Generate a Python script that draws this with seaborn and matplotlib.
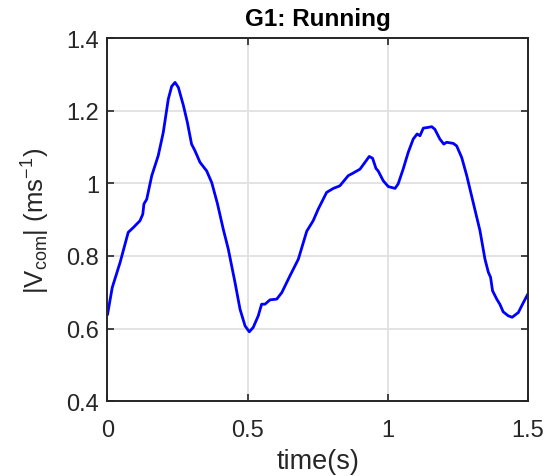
import numpy as np
import pandas as pd
import matplotlib
matplotlib.use("Agg")
import matplotlib.pyplot as plt
import seaborn as sns

# Centre-of-mass speed over one running trial
time_s = [0.000, 0.017, 0.045, 0.074, 0.092, 0.116, 0.126, 0.130, 0.140, 0.158,
          0.181, 0.199, 0.217, 0.229, 0.241, 0.253, 0.271, 0.285, 0.300, 0.312,
          0.330, 0.354, 0.372, 0.392, 0.413, 0.431, 0.455, 0.473, 0.491, 0.506,
          0.520, 0.538, 0.550, 0.562, 0.580, 0.604, 0.622, 0.651, 0.681, 0.711,
          0.734, 0.752, 0.782, 0.806, 0.829, 0.859, 0.876, 0.901, 0.919, 0.934,
          0.946, 0.958, 0.966, 0.984, 1.002, 1.026, 1.037, 1.055, 1.073, 1.091,
          1.105, 1.115, 1.127, 1.144, 1.157, 1.168, 1.186, 1.200, 1.210, 1.234,
          1.246, 1.264, 1.282, 1.305, 1.329, 1.347, 1.359, 1.367, 1.374, 1.389,
          1.400, 1.412, 1.430, 1.444, 1.466, 1.481, 1.500]
v_com = [0.638, 0.713, 0.782, 0.865, 0.878, 0.897, 0.915, 0.943, 0.956, 1.021,
         1.076, 1.140, 1.232, 1.267, 1.278, 1.264, 1.214, 1.168, 1.108, 1.090,
         1.058, 1.034, 1.002, 0.945, 0.874, 0.819, 0.727, 0.653, 0.607, 0.591,
         0.603, 0.635, 0.667, 0.667, 0.679, 0.681, 0.699, 0.745, 0.791, 0.868,
         0.897, 0.929, 0.975, 0.986, 0.993, 1.021, 1.028, 1.039, 1.058, 1.074,
         1.069, 1.041, 1.034, 1.007, 0.991, 0.986, 0.998, 1.039, 1.085, 1.122,
         1.136, 1.131, 1.152, 1.154, 1.156, 1.149, 1.122, 1.108, 1.113, 1.110,
         1.103, 1.071, 1.021, 0.947, 0.870, 0.791, 0.755, 0.741, 0.704, 0.681,
         0.667, 0.646, 0.635, 0.631, 0.644, 0.667, 0.695]

x_ticks = [0, 0.5, 1, 1.5]
x_tick_labels = ["0", "0.5", "1", "1.5"]
y_ticks = [0.4, 0.6, 0.8, 1.0, 1.2, 1.4]
y_tick_labels = ["0.4", "0.6", "0.8", "1", "1.2", "1.4"]

df = pd.DataFrame({"t": time_s, "v": v_com})

sns.set_style("whitegrid")
plt.rcParams["font.family"] = ["Liberation Sans", "DejaVu Sans"]
plt.rcParams["mathtext.fontset"] = "custom"
plt.rcParams["mathtext.rm"] = "Liberation Sans"
plt.rcParams["mathtext.it"] = "Liberation Sans"

fig = plt.figure(figsize=(5.47, 4.77), dpi=100)
ax = fig.add_axes([0.1965, 0.157, 0.7685, 0.761])

sns.lineplot(data=df, x="t", y="v", ax=ax, color="#0000ff", linewidth=2.0,
             estimator=None, sort=False)

ax.set_xlim(0, 1.5)
ax.set_ylim(0.4, 1.4)
ax.set_xticks(x_ticks)
ax.set_xticklabels(x_tick_labels)
ax.set_yticks(y_ticks)
ax.set_yticklabels(y_tick_labels)

ax.grid(True, color="#e0e0e0", linewidth=1.3)
for s in ax.spines.values():
    s.set_visible(True)
    s.set_color("#262626")
    s.set_linewidth(1.4)

ax.tick_params(direction="in", length=5, width=1.2, color="#262626",
               labelsize=17, labelcolor="#262626", top=True, right=True,
               bottom=True, left=True)
ax.tick_params(axis="x", pad=13)
ax.tick_params(axis="y", pad=6)

ax.set_xlabel("time(s)", fontsize=19.5, color="#262626", labelpad=5)
ax.set_ylabel("|V$_{\\mathrm{com}}$| (ms$^{\\mathrm{-1}}$)", fontsize=18.5,
              color="#262626", labelpad=10)
ax.set_title("G1: Running", fontsize=17.5, fontweight="bold", color="#000000", pad=9.5)

fig.savefig("out.png", dpi=100, facecolor="white")
